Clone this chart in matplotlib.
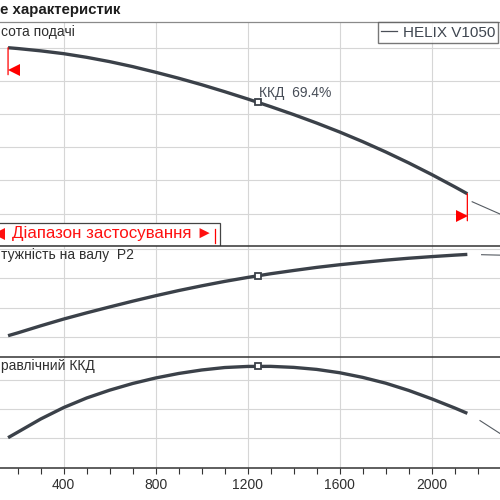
import matplotlib
matplotlib.use("Agg")
import matplotlib.pyplot as plt
from matplotlib.patches import Rectangle
from matplotlib.lines import Line2D
from matplotlib.transforms import offset_copy

plt.rcParams['font.family'] = ['Liberation Sans', 'DejaVu Sans']

# flow values
q = [158, 200, 300, 400, 500, 600, 700, 800, 900, 1000, 1100, 1200,
     1300, 1400, 1500, 1600, 1700, 1800, 1900, 2000, 2100, 2155]
head = [60.0, 59.75, 59.05, 58.2, 57.1, 55.8, 54.3, 52.6, 50.8, 48.85, 46.75, 44.55,
        42.25, 39.85, 37.3, 34.6, 31.7, 28.6, 25.3, 21.8, 18.1, 16.0]
power = [2.11, 2.30, 2.78, 3.24, 3.66, 4.06, 4.45, 4.82, 5.17, 5.49, 5.79, 6.06,
         6.31, 6.53, 6.74, 6.92, 7.08, 7.23, 7.36, 7.47, 7.57, 7.62]
eff = [20.2, 24.0, 33.1, 41.0, 47.6, 53.0, 57.6, 61.4, 64.5, 66.9, 68.6, 69.35,
       69.4, 68.7, 67.3, 65.0, 61.8, 57.8, 52.8, 47.0, 40.7, 37.0]

# thin continuation beyond the application range
q_ext_head = [2176, 2297]
head_ext = [13.6, 9.9]
q_ext_power = [2217, 2297]
power_ext = [7.60, 7.57]
q_ext_eff = [2210, 2297]
eff_ext = [32.0, 23.1]

# duty point
q_duty = 1245
head_duty = 43.6
power_duty = 6.17
eff_duty = 69.4

x_ticks = [400, 800, 1200, 1600, 2000]
pump_name = 'HELIX V1050'

curve_col = '#3b4149'
grid_col = '#d6d6d6'
text_col = '#2f2f2f'

fig = plt.figure(figsize=(5, 5), dpi=100)

def px_rect(top, bottom):
    return [0.0, (500 - bottom) / 500, 1.0, (bottom - top) / 500]

ax1 = fig.add_axes(px_rect(22.3, 245.7))
ax2 = fig.add_axes(px_rect(245.7, 356.8))
ax3 = fig.add_axes(px_rect(356.8, 467.7))

for ax in (ax1, ax2, ax3):
    ax.set_xlim(123, 2297)
    ax.set_xticks(x_ticks)
    ax.set_xticks(range(200, 2300, 100), minor=True)
    ax.grid(True, color=grid_col, lw=0.8)
    ax.set_axisbelow(True)
    ax.spines['left'].set_visible(False)
    ax.spines['right'].set_visible(False)
    ax.spines['bottom'].set_visible(False)
    ax.spines['top'].set_color('#333333')
    ax.spines['top'].set_linewidth(1.1)
    ax.tick_params(axis='y', length=0, labelleft=False)
    ax.tick_params(axis='x', which='both', length=0, labelbottom=False)

ax1.spines['top'].set_color('#8a8a8a')
ax1.spines['top'].set_linewidth(0.9)

ax1.set_ylim(0.36, 67.65)
ax1.set_yticks([10, 20, 30, 40, 50, 60])
ax2.set_ylim(0.68, 8.21)
ax2.set_yticks([2, 4, 6, 8])
ax3.set_ylim(-0.5, 76.0)
ax3.set_yticks([20, 40, 60])

ax3.spines['bottom'].set_visible(True)
ax3.spines['bottom'].set_color('#333333')
ax3.spines['bottom'].set_linewidth(1.1)
ax3.tick_params(axis='x', which='both', direction='out', length=4.5, width=0.8,
                color='#333333', labelbottom=True, labelsize=10, labelcolor=text_col, pad=3)

# curves
ax1.plot(q, head, color=curve_col, lw=2.4, solid_capstyle='butt', zorder=3)
ax2.plot(q, power, color=curve_col, lw=2.4, solid_capstyle='butt', zorder=3)
ax3.plot(q, eff, color=curve_col, lw=2.4, solid_capstyle='butt', zorder=3)
ax1.plot(q_ext_head, head_ext, color='#555b62', lw=0.8, zorder=3)
ax2.plot(q_ext_power, power_ext, color='#555b62', lw=0.8, zorder=3)
ax3.plot(q_ext_eff, eff_ext, color='#555b62', lw=0.8, zorder=3)

# duty point markers
for ax, val in ((ax1, head_duty), (ax2, power_duty), (ax3, eff_duty)):
    ax.plot([q_duty], [val], marker='s', ms=5, mfc='white', mec=curve_col, mew=1.3, zorder=4)

ax1.annotate(f'ККД  {eff_duty}%', xy=(q_duty, head_duty), xytext=(1, 9),
             textcoords='offset pixels', ha='left', va='center', fontsize=10, color='#474d57')

# application range markers
for qq, hh, m, dx in ((q[0], head[0], '<', 5.5), (q[-1], head[-1], '>', -5.5)):
    ax1.annotate('', xy=(qq, hh), xytext=(0, -27), textcoords='offset pixels',
                 arrowprops=dict(arrowstyle='-', color='red', lw=0.9, shrinkA=0, shrinkB=0))
    tr = offset_copy(ax1.transData, fig=fig, x=dx, y=-22, units='dots')
    ax1.plot([qq], [hh], marker=m, ms=8, mfc='red', mew=0, color='red', transform=tr, zorder=4)

# range box
ax1.add_patch(Rectangle((-0.02, 0.0), 0.46, 0.0995, transform=ax1.transAxes,
                        facecolor='white', edgecolor='#444444', lw=0.9, zorder=5, clip_on=False))
ax1.plot([-0.003], [0.054], transform=ax1.transAxes, marker='<', ms=8, mew=0,
         color='#ff1010', zorder=6, clip_on=False)
ax1.text(0.024, 0.054, 'Діапазон застосування ►', transform=ax1.transAxes,
         ha='left', va='center', fontsize=12.2, color='#ff1010', zorder=6)
ax1.plot([0.43, 0.43], [0.011, 0.074], transform=ax1.transAxes, color='red', lw=0.9, zorder=6)

# legend
handle = Line2D([], [], color='#4a4f57', lw=0.9)
leg = ax1.legend([handle], [pump_name], loc='upper left', bbox_to_anchor=(0.756, 1.0),
                 borderaxespad=0, fontsize=11, frameon=True, fancybox=False,
                 handlelength=1.0, handletextpad=0.4, borderpad=0.22, labelcolor='#3f4650')
leg.get_frame().set_edgecolor('#555555')
leg.get_frame().set_linewidth(1.0)

# cropped titles
fig.text(0.0, 1 - 10 / 500, 'е характеристик', ha='left', va='center',
         fontsize=10.8, fontweight='bold', color='#1e1e1e')
fig.text(0.002, 1 - 32.3 / 500, 'сота подачі', ha='left', va='center', fontsize=10, color=text_col)
fig.text(0.002, 1 - 255 / 500, 'тужність на валу  P2', ha='left', va='center', fontsize=10, color=text_col)
fig.text(0.002, 1 - 366 / 500, 'равлічний ККД', ha='left', va='center', fontsize=10, color=text_col)

fig.savefig('out.png', dpi=100)
